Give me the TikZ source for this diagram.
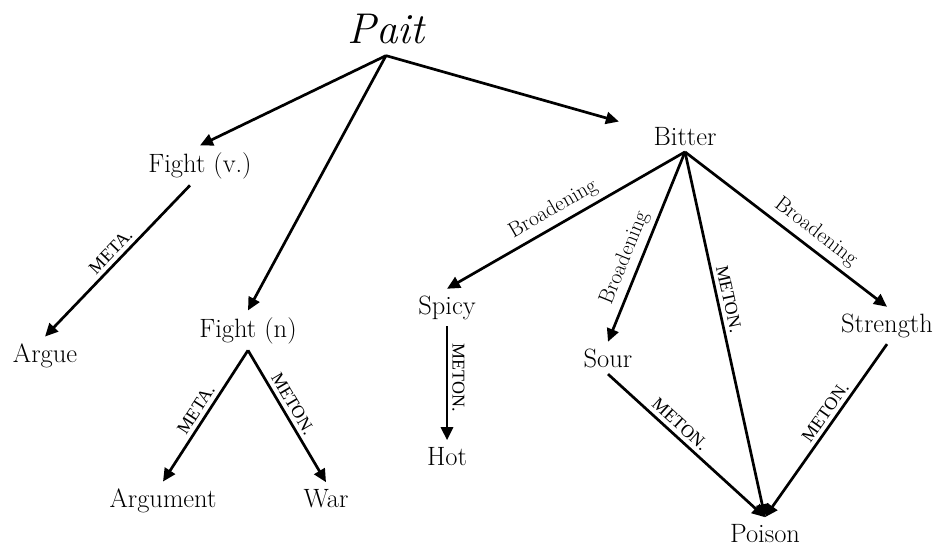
\documentclass[tikz,border=0pt]{standalone}
\usepackage{fontspec}
\newfontfamily\lblfont{Liberation Serif}
\usetikzlibrary{arrows.meta}
\begin{document}
\begin{tikzpicture}[x=1pt,y=-1pt,
  word/.style={font=\fontsize{26.5}{30}\selectfont, inner sep=6.5pt, anchor=base},
  arr/.style={line width=2.7pt, -{Triangle[length=13pt,width=12pt]}},
  rel/.style={font=\lblfont\fontsize{18}{21}\selectfont, sloped, above, inner sep=4pt},
  brd/.style={font=\fontsize{21.5}{24}\selectfont, sloped, above, inner sep=5pt}]
\useasboundingbox (0,0) rectangle (940,546);
\node[word, font=\fontsize{43}{48}\selectfont\itshape, inner sep=12pt] (pait) at (386,43) {Pait};
\node[word] (fightv) at (200,172) {Fight (v.)};
\node[word] (argue) at (45,362) {Argue};
\node[word] (fightn) at (248,337) {Fight (n)};
\node[word] (argument) at (163,507) {Argument};
\node[word] (war) at (326,507) {War};
\node[word] (bitter) at (685,145) {Bitter};
\node[word] (spicy) at (447,314) {Spicy};
\node[word] (hot) at (447,465) {Hot};
\node[word] (sour) at (608,367) {Sour};
\node[word] (strength) at (887,332) {Strength};
\node[word] (poison) at (765,542) {Poison};

\draw[arr] (pait.south) -- (fightv.north);
\draw[arr] (pait.south) -- (fightn.north);
\draw[arr] (pait.south) -- ([shift={(-28,-14.5)}]bitter.west);

\draw[arr] ([xshift=-10pt]fightv.south) -- node[rel, pos=0.49] {META.} (argue.north);
\draw[arr] (fightn.south) -- node[rel, pos=0.5] {META.} (argument.north);
\draw[arr] (fightn.south) -- node[rel, pos=0.45] {METON.} (war.north);

\draw[arr] (bitter.south) -- node[brd, pos=0.52] {Broadening} (spicy.north);
\draw[arr] (bitter.south) -- node[brd, pos=0.59] {Broadening} (sour.north);
\draw[arr] (bitter.south) -- node[rel, pos=0.41] {METON.} (poison.north);
\draw[arr] (bitter.south) -- node[brd, pos=0.6] {Broadening} (strength.north);

\draw[arr] (spicy.south) -- node[rel, pos=0.45] {METON.} (hot.north);
\draw[arr] (sour.south) -- node[rel, pos=0.41] {METON.} (poison.north);
\draw[arr] (strength.south) -- node[rel, pos=0.43] {METON.} (poison.north);
\end{tikzpicture}
\end{document}
